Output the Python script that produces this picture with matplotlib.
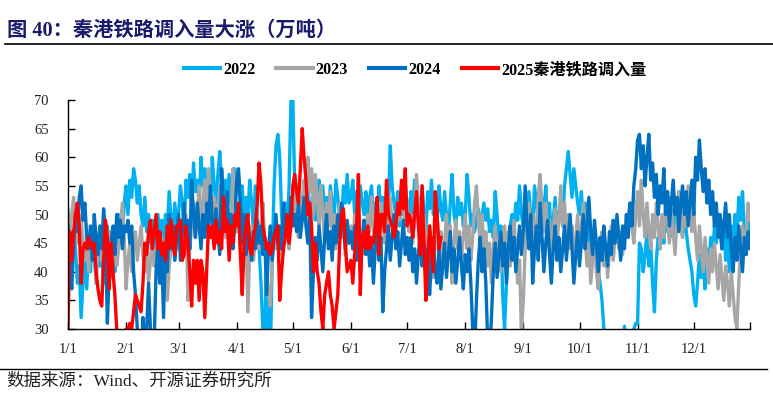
import numpy as np
import matplotlib
matplotlib.use("Agg")
import matplotlib.pyplot as plt
from matplotlib.lines import Line2D

# ---------------- data (万吨, daily, index = day of year) ----------------
y2022 = (
    [42, 45, 40, 47, 44, 38, 41, 32, 38, 44, 37, 45, 40, 47, 43, 38, 46, 41, 44, 38, 45, 48, 42, 46, 44, 40, 46, 50, 48, 45, 52] +
    [55, 50, 56, 53, 58, 56, 52, 55, 50, 48, 53, 47, 50, 45, 49, 44, 47, 50, 46, 49, 45, 50, 48, 54, 49, 47, 52, 48] +
    [50, 55, 52, 48, 56, 53, 57, 51, 59, 54, 56, 52, 60, 55, 58, 53, 56, 50, 60, 55, 52, 57, 61, 55, 50, 56, 53, 57, 52, 55, 58] +
    [54, 57, 52, 55, 48, 53, 50, 56, 52, 47, 55, 50, 44, 38, 30, 27, 45, 28, 25, 42, 55, 62, 64, 60, 50, 45, 52, 48, 55, 70] +
    [70, 55, 50, 53, 48, 52, 56, 50, 54, 47, 52, 55, 49, 53, 56, 51, 55, 50, 53, 48, 55, 52, 49, 56, 53, 50, 48, 55, 52, 57, 52] +
    [53, 56, 50, 54, 51, 55, 52, 50, 54, 48, 53, 55, 50, 52, 47, 55, 50, 53, 49, 54, 51, 62, 55, 52, 50, 54, 48, 53, 50, 55] +
    [52, 48, 54, 50, 56, 51, 53, 49, 55, 50, 47, 54, 51, 56, 50, 53, 48, 55, 51, 49, 54, 50, 46, 52, 57, 50, 48, 53, 50, 52, 48] +
    [50, 57, 53, 48, 50, 47, 49, 51, 48, 50, 52, 49, 51, 47, 49, 46, 54, 50, 45, 48, 36, 30, 38, 44, 48, 50, 47, 52, 49, 55, 50] +
    [48, 52, 49, 54, 50, 47, 55, 52, 49, 46, 53, 50, 55, 48, 52, 45, 49, 53, 47, 50, 52, 48, 55, 58, 61, 57, 53, 58, 55, 52] +
    [50, 54, 48, 52, 45, 49, 44, 47, 42, 45, 40, 38, 35, 30, 28, 26, 25, 25, 26, 25, 26, 28, 27, 26, 30.5, 26, 25, 27, 29, 30, 31] +
    [31, 45, 44, 40, 43, 47, 41, 45, 38, 33, 42, 46, 44, 48, 45, 51, 47, 53, 49, 46, 52, 48, 54, 50, 46, 51, 47, 44, 42, 40] +
    [36, 34, 38, 43, 39, 42, 37, 44, 40, 46, 42, 48, 45, 50, 47, 44, 49, 42, 46, 40, 48, 44, 50, 46, 53, 49, 54, 47, 45, 50, 47]
)

y2023 = (
    [51, 46, 50, 53, 49, 45, 48, 50, 44, 42, 47, 40, 45, 43, 46, 38, 44, 47, 42, 45, 40, 44, 47, 39, 43, 46, 41, 44, 48, 52, 46] +
    [37, 42, 45, 40, 44, 47, 42, 45, 48, 43, 40, 44, 38, 42, 46, 41, 44, 39, 43, 46, 42, 45, 35, 41, 44, 47, 42, 46] +
    [44, 48, 42, 46, 50, 35, 44, 48, 52, 46, 50, 55, 48, 52, 56, 50, 58, 54, 49, 53, 47, 51, 55, 49, 53, 46, 50, 44, 48, 58, 52] +
    [47, 50, 44, 48, 42, 46, 33, 44, 48, 42, 46, 50, 44, 47, 52, 45, 40, 36, 34, 42, 46, 44, 48, 43, 47, 45, 50, 48, 44, 52] +
    [48, 55, 50, 46, 53, 49, 56, 51, 60, 54, 58, 50, 57, 53, 48, 55, 50, 45, 52, 48, 54, 46, 50, 44, 48, 52, 46, 50, 43, 47, 45] +
    [48, 44, 50, 46, 52, 47, 43, 49, 45, 50, 47, 53, 48, 44, 50, 46, 52, 49, 45, 51, 47, 53, 48, 50, 46, 52, 49, 55, 51, 48] +
    [52, 47, 50, 45, 49, 57, 52, 48, 45, 50, 46, 42, 48, 44, 39, 46, 50, 43, 47, 41, 45, 50, 44, 48, 38, 45, 49, 44, 47, 42, 46] +
    [50, 44, 48, 42, 46, 52, 55, 49, 45, 50, 43, 47, 41, 45, 38, 44, 48, 42, 46, 40, 44, 48, 43, 47, 41, 45, 49, 44, 38, 42, 29] +
    [35, 44, 48, 52, 46, 50, 44, 48, 53, 57, 51, 47, 52, 45, 49, 43, 47, 51, 45, 49, 55, 48, 52, 46, 50, 44, 48, 42, 46, 50] +
    [44, 48, 52, 46, 41, 45, 38, 42, 46, 40, 37, 43, 47, 41, 45, 39, 44, 48, 42, 46, 49, 44, 47, 43, 48, 46, 50, 52, 48, 45, 50] +
    [54, 48, 56, 50, 46, 52, 47, 44, 50, 46, 52, 48, 44, 50, 46, 53, 49, 45, 51, 47, 43, 49, 54, 50, 46, 52, 48, 55, 51, 47] +
    [50, 46, 42, 48, 44, 40, 46, 42, 38, 44, 40, 45, 41, 37, 43, 39, 35, 41, 38, 34, 40, 36, 32, 30, 38, 44, 48, 43, 47, 52, 49]
)

y2024 = (
    [48, 42, 37, 45, 50, 47, 53, 55, 49, 52, 46, 44, 48, 42, 50, 46, 43, 48, 44, 51, 47, 31, 40, 45, 48, 43, 50, 46, 49, 44, 48] +
    [47, 49, 45, 48, 40, 36, 30, 28, 25, 32, 27, 30, 38, 30, 26, 28, 40, 45, 38, 43, 32, 45, 40, 50, 44, 48, 42, 46, 50] +
    [42, 47, 52, 45, 49, 44, 56, 50, 46, 52, 48, 44, 50, 46, 52, 47, 55, 49, 45, 51, 47, 43, 58, 52, 48, 54, 47, 50, 44, 48, 56] +
    [58, 52, 45, 50, 43, 48, 46, 42, 47, 44, 49, 45, 48, 43, 46, 36, 44, 48, 42, 46, 50, 45, 48, 44, 52, 47, 50, 46, 53, 48] +
    [50, 47, 52, 46, 49, 53, 48, 45, 50, 32, 40, 46, 42, 48, 44, 40, 46, 50, 44, 47, 42, 48, 45, 50, 46, 52, 48, 44, 49, 45, 47] +
    [44, 48, 42, 46, 40, 45, 49, 43, 47, 41, 45, 38, 44, 48, 42, 46, 33, 40, 44, 48, 42, 46, 50, 44, 47, 41, 45, 49, 43, 46] +
    [42, 46, 40, 44, 38, 43, 47, 41, 45, 39, 44, 36, 42, 46, 40, 38, 44, 37, 41, 45, 39, 43, 47, 40, 44, 38, 42, 46, 41, 37, 43] +
    [40, 44, 38, 30, 26, 35, 42, 46, 40, 44, 38, 28, 25, 32, 40, 45, 39, 43, 47, 41, 45, 38, 44, 48, 42, 46, 40, 44, 48, 43, 47] +
    [55, 48, 44, 50, 38, 44, 48, 42, 52, 46, 40, 45, 49, 43, 38, 44, 48, 42, 46, 40, 44, 48, 42, 46, 50, 44, 38, 43, 47, 41] +
    [45, 50, 44, 48, 53, 47, 43, 49, 45, 40, 46, 42, 48, 44, 41, 47, 43, 49, 45, 50, 46, 42, 48, 44, 50, 46, 52, 48, 55, 58, 63] +
    [64, 58, 62, 55, 60, 64, 56, 59, 53, 57, 50, 55, 52, 58, 50, 54, 48, 52, 56, 50, 53, 47, 52, 55, 50, 54, 48, 52, 56, 50] +
    [60, 56, 63, 58, 54, 58, 52, 56, 50, 54, 48, 52, 46, 50, 44, 48, 52, 46, 50, 44, 40, 46, 42, 48, 44, 40, 46, 43, 47, 44, 46]
)

y2025 = (
    [30, 47, 42, 47, 50, 52, 48, 38, 44, 45, 44, 46, 45, 44, 45, 40, 37, 35, 34, 42, 49, 46, 37, 45, 40, 36, 30, 28, 27, 28, 29] +
    [30, 30, 31, 30, 33, 36, 35, 34, 33, 38, 45, 43, 47, 49, 44, 47, 50, 44, 47, 43, 45, 42, 48, 44, 49, 45, 43, 48] +
    [48, 49, 42, 43, 48, 45, 40, 34, 42, 38, 42, 35, 42, 40, 32, 40, 48, 46, 48, 44, 49, 45, 47, 44, 53, 47, 49, 42, 48, 45, 50] +
    [48, 52, 43, 36, 45, 48, 50, 44, 43, 46, 48, 52, 59, 55, 48, 46, 44, 45, 43, 44, 46, 47, 48, 35, 40, 44, 46, 50, 45, 48] +
    [55, 57, 54, 52, 58, 65, 60, 56, 50, 52, 48, 40, 45, 40, 38, 33, 30, 36, 38, 40, 36, 34, 30, 33, 36, 45, 50, 51, 45, 40, 41] +
    [42, 38, 43, 48, 57, 36, 46, 47, 44, 48, 44, 46, 45, 48, 53, 43, 50, 50, 47, 56, 50, 49, 48, 46, 48, 52, 50, 56, 51, 58] +
    [48, 50, 49, 46, 50, 54, 48, 43, 55, 45, 35, 42, 48, 44, 40, 54, 50, 44, 46]
)

series_names = ["2022", "2023", "2024", "2025秦港铁路调入量"]
series_colors = ["#00B0F0", "#A6A6A6", "#0070C0", "#FF0000"]
month_ticks = [0, 31, 59, 90, 120, 151, 181, 212, 243, 273, 304, 334]
month_labels = ["1/1", "2/1", "3/1", "4/1", "5/1", "6/1", "7/1", "8/1", "9/1", "10/1", "11/1", "12/1"]
y_ticks = [30, 35, 40, 45, 50, 55, 60, 65, 70]

# ---------------- figure ----------------
SERIF = ["Liberation Serif", "Noto Sans CJK SC"]
fig = plt.figure(figsize=(7.73, 3.95), dpi=100)
ax = fig.add_axes([68 / 773, 1 - 329 / 395, (750 - 68) / 773, (329 - 100) / 395])

all_series = [y2022, y2023, y2024, y2025]
for vals, c in zip(all_series, series_colors):
    ax.plot(np.arange(len(vals)), vals, color=c, lw=2.4, solid_joinstyle="round")

ax.set_xlim(0, 364)
ax.set_ylim(30, 70)
ax.set_yticks(y_ticks)
ax.set_xticks(month_ticks + [364])
ax.set_xticklabels(month_labels + [""])
for s in ["top", "right"]:
    ax.spines[s].set_visible(False)
for s in ["left", "bottom"]:
    ax.spines[s].set_linewidth(1.0)
    ax.spines[s].set_color("black")
ax.tick_params(axis="both", direction="in", length=5, width=1.0, labelsize=10.5)
ax.tick_params(axis="y", pad=14)
ax.tick_params(axis="x", pad=10)
for lab in ax.get_xticklabels() + ax.get_yticklabels():
    lab.set_family(SERIF)
    lab.set_color("#222222")

# legend
handles = [Line2D([0], [0], color=c, lw=3) for c in series_colors]
leg = fig.legend(handles, series_names, loc="center", bbox_to_anchor=(415 / 773, 1 - 70 / 395),
                 ncol=4, frameon=False, handlelength=2.25, handletextpad=0.2, columnspacing=1.3,
                 prop={"family": SERIF, "weight": "bold", "size": 11.6})

# title & frame lines
fig.text(7 / 773, 1 - 31 / 395, "图 40：秦港铁路调入量大涨（万吨）", family=SERIF, weight="bold",
         size=14.6, color="#1B1B6E", va="center", ha="left")
fig.add_artist(Line2D([5 / 773, 1.0], [1 - 44 / 395] * 2, color="black", lw=1.2))
fig.add_artist(Line2D([0, 767 / 773], [1 - 369 / 395] * 2, color="black", lw=1.0))
fig.text(6 / 773, 1 - 382 / 395, "数据来源：Wind、开源证券研究所", family=SERIF, size=12.6,
         color="#222222", va="center", ha="left")

fig.savefig("out.png", dpi=100)
